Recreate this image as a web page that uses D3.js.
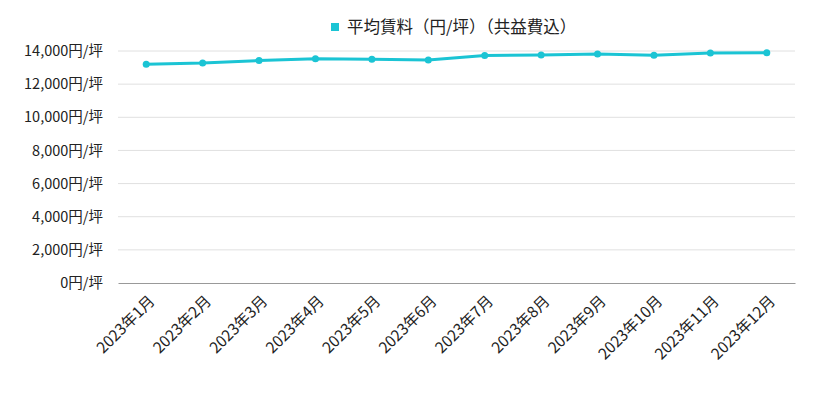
<!DOCTYPE html>
<html>
<head>
<meta charset="utf-8">
<script src="https://cdn.jsdelivr.net/npm/d3@7"></script>
<style>
  body { margin: 0; background: #fff; }
  text { font-family: "Noto Sans CJK JP", "Noto Sans", sans-serif; }
</style>
</head>
<body>
<div id="plot"></div>
<script>
// Data
var months = ["2023年1月", "2023年2月", "2023年3月", "2023年4月", "2023年5月", "2023年6月",
	"2023年7月", "2023年8月", "2023年9月", "2023年10月", "2023年11月", "2023年12月"];
var rent = [13200, 13270, 13420, 13530, 13500, 13460, 13730, 13760, 13820, 13740, 13880, 13890];
var yTicks = [0, 2000, 4000, 6000, 8000, 10000, 12000, 14000];
var seriesName = "平均賃料（円/坪）（共益費込）";

var color = "#1bc4d4";

// Dimensions
var margin = {top: 51, right: 31, bottom: 110, left: 118},
	width = 826 - margin.left - margin.right,
	height = 393 - margin.top - margin.bottom;

var svg = d3.select("#plot")
	.append("svg")
	.attr("width", 826)
	.attr("height", 393);

var g = svg.append("g")
	.attr("transform", "translate(" + margin.left + "," + margin.top + ")");

// Scales
var x = d3.scalePoint()
	.domain(months)
	.range([0, width])
	.padding(0.5);

var y = d3.scaleLinear()
	.domain([0, 14000])
	.range([height, 0]);

// Grid lines
g.append("g")
	.selectAll("line")
	.data(yTicks.filter(function(d){ return d > 0; }))
	.enter().append("line")
	.attr("x1", 0)
	.attr("x2", width)
	.attr("y1", function(d){ return y(d); })
	.attr("y2", function(d){ return y(d); })
	.style("stroke", "#e0e0e0")
	.style("stroke-width", 1);

// Y axis labels
g.append("g")
	.selectAll("text")
	.data(yTicks)
	.enter().append("text")
	.attr("x", -15)
	.attr("y", function(d){ return y(d); })
	.attr("dy", "0.35em")
	.style("text-anchor", "end")
	.style("font-size", "14.5px")
	.style("fill", "#222")
	.text(function(d){ return d3.format(",")(d) + "円/坪"; });

// X axis
var xAxis = g.append("g")
	.attr("transform", "translate(0," + height + ")")
	.call(d3.axisBottom(x).tickSize(0).tickPadding(0));
xAxis.select(".domain").style("stroke", "#999");
xAxis.selectAll("text")
	.style("font-size", "15.5px")
	.style("fill", "#222")
	.style("text-anchor", "end")
	.attr("dy", null)
	.attr("y", 0)
	.attr("transform", "translate(9,19) rotate(-45)");

// Line
var line = d3.line()
	.x(function(d, i){ return x(months[i]); })
	.y(function(d){ return y(d); });

g.append("path")
	.datum(rent)
	.attr("d", line)
	.style("fill", "none")
	.style("stroke", color)
	.style("stroke-width", 3);

g.append("g")
	.selectAll("circle")
	.data(rent)
	.enter().append("circle")
	.attr("cx", function(d, i){ return x(months[i]); })
	.attr("cy", function(d){ return y(d); })
	.attr("r", 3.5)
	.style("fill", color);

// Legend
var legend = svg.append("g")
	.attr("transform", "translate(331,20)");
legend.append("rect")
	.attr("x", 0)
	.attr("y", 3)
	.attr("width", 8)
	.attr("height", 8)
	.style("fill", color);
legend.append("text")
	.attr("x", 16)
	.attr("y", 7)
	.attr("dy", "0.35em")
	.style("font-size", "16.5px")
	.style("fill", "#222")
	.text(seriesName);
</script>
</body>
</html>
